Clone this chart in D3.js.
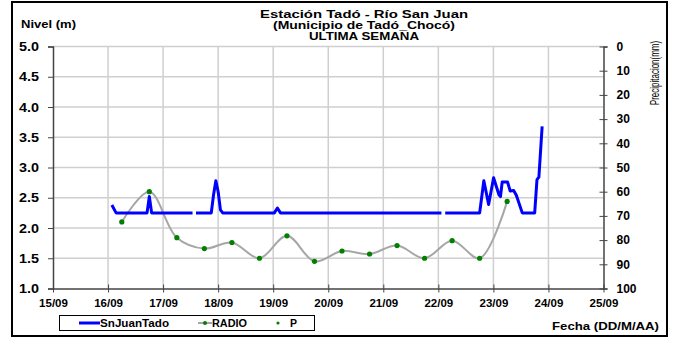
<!DOCTYPE html>
<html>
<head>
<meta charset="utf-8">
<script src="https://cdn.jsdelivr.net/npm/d3@7"></script>
<style>
  body { margin: 0; background: #fff; }
  svg { display: block; }
  text { font-family: "Liberation Sans", Arial, sans-serif; font-weight: bold; fill: #000; }
</style>
</head>
<body>
<svg id="chart" width="674" height="339"></svg>
<script>
// ---------- DATA ----------
const titleLines = ["Estación Tadó - Río San Juan", "(Municipio de Tadó_Chocó)", "ULTIMA SEMANA"];
const xDomain = ["15/09 00:00", "25/09 00:00"];
const levelTicks = [1.0, 1.5, 2.0, 2.5, 3.0, 3.5, 4.0, 4.5, 5.0];
const precipTicks = [0, 10, 20, 30, 40, 50, 60, 70, 80, 90, 100];

// SnJuanTado (nivel, m) — null marks a gap in the record
const levelTimes = [
  "16/09 01:40", "16/09 03:30", "16/09 17:00", "16/09 18:00", "16/09 19:00", "17/09 12:50",
  "17/09 13:30",
  "17/09 14:20", "17/09 21:00", "17/09 22:00", "17/09 23:00", "18/09 00:00", "18/09 01:00", "18/09 02:00",
  "19/09 00:30", "19/09 01:50", "19/09 03:10", "22/09 01:20",
  "22/09 02:10",
  "22/09 03:00", "22/09 18:00", "22/09 19:50", "22/09 21:55", "23/09 00:05", "23/09 02:25", "23/09 03:05",
  "23/09 03:50", "23/09 06:10", "23/09 07:20", "23/09 08:50", "23/09 10:00", "23/09 12:35", "23/09 18:00",
  "23/09 19:00", "23/09 19:50", "23/09 21:15"
];
const levelValues = [
  2.38, 2.25, 2.25, 2.52, 2.25, 2.25,
  null,
  2.25, 2.25, 2.55, 2.78, 2.60, 2.30, 2.25,
  2.25, 2.33, 2.25, 2.25,
  null,
  2.25, 2.25, 2.78, 2.39, 2.83, 2.55, 2.52,
  2.76, 2.76, 2.61, 2.62, 2.54, 2.25, 2.25,
  2.80, 2.84, 3.68
];

// RADIO (lecturas 6:00 / 18:00, m)
const radioTimes = [
  "16/09 06:00", "16/09 18:00", "17/09 06:00", "17/09 18:00", "18/09 06:00", "18/09 18:00",
  "19/09 06:00", "19/09 18:00", "20/09 06:00", "20/09 18:00", "21/09 06:00", "21/09 18:00",
  "22/09 06:00", "22/09 18:00", "23/09 06:00"
];
const radioValues = [2.10, 2.60, 1.84, 1.66, 1.76, 1.50, 1.87, 1.45, 1.62, 1.57, 1.71, 1.50, 1.79, 1.50, 2.44];

// ---------- CHART ----------
const parse = d3.timeParse("%d/%m %H:%M");
const svg = d3.select("#chart");
const L = 53, R = 603.5, T = 46.5, B = 288.5;

const x = d3.scaleTime().domain(xDomain.map(parse)).range([L, R]);
const y = d3.scaleLinear().domain([1, 5]).range([B, T]);
const y2 = d3.scaleLinear().domain([0, 100]).range([T, B]);

// outer border
svg.append("rect").attr("x", 12).attr("y", 2).attr("width", 655).attr("height", 334)
  .attr("fill", "none").attr("stroke", "#000").attr("stroke-width", 2);

// gridlines
const xTicks = d3.timeDay.range(parse("15/09 00:00"), d3.timeDay.offset(parse("25/09 00:00"), 1));
svg.append("g").selectAll("line").data(xTicks.slice(1, -1)).join("line")
  .attr("x1", d => x(d)).attr("x2", d => x(d)).attr("y1", T).attr("y2", B)
  .attr("stroke", "#cfcfcf").attr("stroke-width", 1.5);
svg.append("g").selectAll("line").data(levelTicks.slice(1)).join("line")
  .attr("x1", L).attr("x2", R).attr("y1", d => y(d)).attr("y2", d => y(d))
  .attr("stroke", "#cfcfcf").attr("stroke-width", 1.5);

// axes
const axisColor = "#444";
const gl = svg.append("g").attr("transform", `translate(${L},0)`)
  .call(d3.axisLeft(y).tickValues(levelTicks).tickFormat(d3.format(".1f")).tickSize(5).tickPadding(9));
const gb = svg.append("g").attr("transform", `translate(0,${B})`)
  .call(d3.axisBottom(x).tickValues(xTicks).tickFormat(d3.timeFormat("%d/%m")).tickSizeInner(4).tickSizeOuter(0).tickPadding(4));
const gr = svg.append("g").attr("transform", `translate(${R},0)`)
  .call(d3.axisRight(y2).tickValues(precipTicks).tickSize(4).tickPadding(9));
[[gl, 12.5], [gb, 11.5], [gr, 12]].forEach(([g, fs]) => {
  g.select(".domain").attr("stroke", axisColor).attr("stroke-width", 1.5);
  g.selectAll(".tick line").attr("stroke", axisColor).attr("stroke-width", 1);
  g.selectAll(".tick text").style("font-size", fs + "px").style("font-weight", "bold")
    .style("font-family", "'Liberation Sans', Arial, sans-serif").attr("fill", "#000");
});
gl.selectAll(".tick text").attr("textLength", 20).attr("lengthAdjust", "spacingAndGlyphs");
// crossing ticks on bottom & right axes
gb.selectAll(".tick line").attr("y1", -4).attr("y2", 4);
gr.selectAll(".tick line").attr("x1", -4).attr("x2", 4);
gb.selectAll(".tick text").attr("dy", "0.9em");

// RADIO smooth line
const radio = radioTimes.map((t, i) => ({ t: parse(t), v: radioValues[i] }));
svg.append("path").datum(radio)
  .attr("d", d3.line().x(d => x(d.t)).y(d => y(d.v)).curve(d3.curveCatmullRom.alpha(0.5)))
  .attr("fill", "none").attr("stroke", "#a6a6a6").attr("stroke-width", 2);
svg.append("g").selectAll("circle").data(radio).join("circle")
  .attr("cx", d => x(d.t)).attr("cy", d => y(d.v)).attr("r", 2.6).attr("fill", "#008000");

// level line
const level = levelTimes.map((t, i) => ({ t: parse(t), v: levelValues[i] }));
svg.append("path").datum(level)
  .attr("d", d3.line().defined(d => d.v !== null).x(d => x(d.t)).y(d => y(d.v)))
  .attr("fill", "none").attr("stroke", "#0000ff").attr("stroke-width", 3)
  .attr("stroke-linejoin", "round");

// titles
const titleLens = [208, 182, 110];
const tg = svg.append("g");
titleLines.forEach((s, i) => {
  tg.append("text").attr("x", 364).attr("y", 18.3 + i * 10.6).attr("text-anchor", "middle")
    .attr("textLength", titleLens[i]).attr("lengthAdjust", "spacingAndGlyphs")
    .style("font-size", "11.5px").text(s);
});
svg.append("text").attr("x", 21).attr("y", 28).style("font-size", "11.5px")
  .attr("textLength", 55).attr("lengthAdjust", "spacingAndGlyphs").text("Nivel (m)");
svg.append("text").attr("transform", "translate(659,73) rotate(-90) scale(1,1.6)").attr("text-anchor", "middle")
  .style("font-size", "8px").style("font-weight", "normal").text("Precipitacion(mm)");
svg.append("text").attr("x", 552).attr("y", 330)
  .attr("textLength", 107).attr("lengthAdjust", "spacingAndGlyphs")
  .style("font-size", "11.5px").text("Fecha (DD/M/AA)");

// legend
const lg = svg.append("g");
lg.append("rect").attr("x", 59.5).attr("y", 315.5).attr("width", 255).attr("height", 15)
  .attr("fill", "#fff").attr("stroke", "#000").attr("stroke-width", 1);
lg.append("line").attr("x1", 79).attr("x2", 100).attr("y1", 323).attr("y2", 323)
  .attr("stroke", "#0000ff").attr("stroke-width", 3);
lg.append("text").attr("x", 100).attr("y", 327).style("font-size", "10.5px")
  .attr("textLength", 69).attr("lengthAdjust", "spacingAndGlyphs").text("SnJuanTado");
lg.append("line").attr("x1", 198).attr("x2", 212).attr("y1", 323).attr("y2", 323)
  .attr("stroke", "#a6a6a6").attr("stroke-width", 2);
lg.append("circle").attr("cx", 205).attr("cy", 323).attr("r", 2).attr("fill", "#008000");
lg.append("text").attr("x", 212).attr("y", 327).style("font-size", "10.5px")
  .attr("textLength", 35).attr("lengthAdjust", "spacingAndGlyphs").text("RADIO");
lg.append("circle").attr("cx", 278).attr("cy", 323).attr("r", 1.6).attr("fill", "#008000");
lg.append("text").attr("x", 290).attr("y", 327).style("font-size", "10.5px").text("P");
</script>
</body>
</html>
